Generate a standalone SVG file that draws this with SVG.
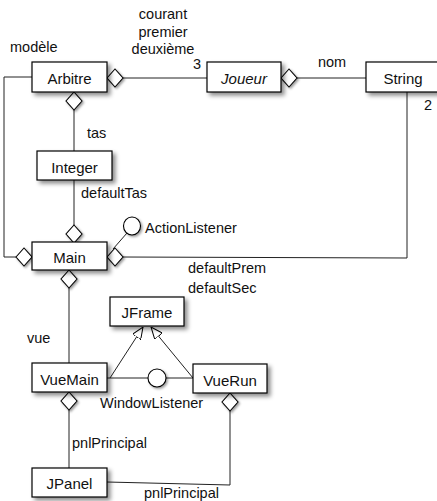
<svg xmlns="http://www.w3.org/2000/svg" width="437" height="501" viewBox="0 0 437 501">
  <style>
    .box { fill: #fff; stroke: #000; stroke-width: 1.2; filter: url(#shadow); }
    .lbl { font-family: "Liberation Sans", Arial, sans-serif; font-size: 14.5px; fill: #111; }
    .name { font-family: "Liberation Sans", Arial, sans-serif; font-size: 15px; fill: #111; text-anchor: middle; }
    .ln { fill: none; stroke: #222; stroke-width: 1; }
    .dia { fill: #fff; stroke: #000; stroke-width: 1.1; filter: url(#shadow2); }
    .itf { fill: #fff; stroke: #000; stroke-width: 1.1; filter: url(#shadow2); }
  </style>
  <defs>
    <filter id="shadow" x="-20%" y="-30%" width="150%" height="180%">
      <feDropShadow dx="3" dy="3" stdDeviation="2" flood-color="#000" flood-opacity="0.45"/>
    </filter>
    <filter id="shadow2" x="-40%" y="-40%" width="200%" height="200%">
      <feDropShadow dx="1.5" dy="1.5" stdDeviation="1.2" flood-color="#000" flood-opacity="0.4"/>
    </filter>
    <marker id="inherit" viewBox="0 0 12 10" refX="12" refY="5" markerWidth="12" markerHeight="10" markerUnits="userSpaceOnUse" orient="auto">
      <path d="M0,0 L12,5 L0,10 z" fill="#fff" stroke="#000" stroke-width="1"/>
    </marker>
    <path id="diamondH" d="M0,0 L8,-9 L16,0 L8,9 z"/>
    <path id="diamondV" d="M0,0 L8,9 L0,18 L-8,9 z"/>
  </defs>

  <g id="connectors">
    <!-- Arbitre - Joueur -->
    <line class="ln" x1="123" y1="78" x2="207" y2="78"/>
    <!-- Joueur - String -->
    <line class="ln" x1="297" y1="78" x2="366" y2="78"/>
    <!-- Arbitre - Integer -->
    <line class="ln" x1="74" y1="110" x2="74" y2="151"/>
    <!-- Arbitre - Main (modèle) -->
    <polyline class="ln" points="32,77 4,77 4,257 16,257"/>
    <!-- Integer - Main -->
    <line class="ln" x1="74" y1="180" x2="74" y2="226"/>
    <!-- String - Main -->
    <polyline class="ln" points="407,92 407,258 123,257"/>
    <!-- Main - ActionListener -->
    <line class="ln" x1="113" y1="249" x2="127" y2="233"/>
    <!-- Main - VueMain -->
    <line class="ln" x1="69" y1="288" x2="69" y2="363"/>
    <!-- generalisation to JFrame -->
    <line class="ln" x1="110" y1="378" x2="143" y2="327" marker-end="url(#inherit)"/>
    <line class="ln" x1="193" y1="378" x2="151" y2="327" marker-end="url(#inherit)"/>
    <!-- VueMain - VueRun via WindowListener -->
    <line class="ln" x1="107" y1="378" x2="193" y2="378"/>
    <!-- VueMain - JPanel -->
    <line class="ln" x1="69" y1="410" x2="69" y2="468"/>
    <!-- VueRun - JPanel -->
    <polyline class="ln" points="230,411 230,485 107,482"/>

    <!-- aggregation diamonds -->
    <use href="#diamondH" class="dia" x="107" y="78"/>
    <use href="#diamondH" class="dia" x="281" y="78"/>
    <use href="#diamondV" class="dia" x="74" y="92"/>
    <use href="#diamondH" class="dia" x="16" y="257"/>
    <use href="#diamondV" class="dia" x="74" y="225"/>
    <use href="#diamondH" class="dia" x="107" y="257"/>
    <use href="#diamondV" class="dia" x="69" y="270"/>
    <use href="#diamondV" class="dia" x="69" y="392"/>
    <use href="#diamondV" class="dia" x="230" y="393"/>

    <!-- interface lollipops -->
    <ellipse class="itf" cx="132" cy="226" rx="8.5" ry="9"/>
    <ellipse class="itf" cx="157" cy="378" rx="9" ry="9"/>

    <!-- role labels -->
    <text class="lbl" x="10" y="52">modèle</text>
    <text class="lbl" x="163" y="19" text-anchor="middle">courant</text>
    <text class="lbl" x="163" y="37" text-anchor="middle">premier</text>
    <text class="lbl" x="163" y="54" text-anchor="middle">deuxième</text>
    <text class="lbl" x="193" y="69">3</text>
    <text class="lbl" x="332" y="67" text-anchor="middle">nom</text>
    <text class="lbl" x="424" y="110">2</text>
    <text class="lbl" x="87" y="138">tas</text>
    <text class="lbl" x="81" y="198">defaultTas</text>
    <text class="lbl" x="145" y="233">ActionListener</text>
    <text class="lbl" x="188" y="273">defaultPrem</text>
    <text class="lbl" x="188" y="293">defaultSec</text>
    <text class="lbl" x="27" y="343">vue</text>
    <text class="lbl" x="100" y="408">WindowListener</text>
    <text class="lbl" x="72" y="448">pnlPrincipal</text>
    <text class="lbl" x="144" y="498">pnlPrincipal</text>
  </g>

  <g id="Arbitre">
    <rect class="box" x="32" y="62" width="75" height="30"/>
    <text class="name" x="69.5" y="84">Arbitre</text>
  </g>
  <g id="Joueur">
    <rect class="box" x="207" y="62" width="74" height="30"/>
    <text class="name" x="244" y="84" font-style="italic">Joueur</text>
  </g>
  <g id="String">
    <rect class="box" x="366" y="62" width="75" height="30"/>
    <text class="name" x="403" y="84">String</text>
  </g>
  <g id="Integer">
    <rect class="box" x="37" y="151" width="75" height="29"/>
    <text class="name" x="74.5" y="172.5">Integer</text>
  </g>
  <g id="Main">
    <rect class="box" x="32" y="242" width="75" height="28"/>
    <text class="name" x="69.5" y="263">Main</text>
  </g>
  <g id="JFrame">
    <rect class="box" x="110" y="297" width="74" height="29"/>
    <text class="name" x="147" y="318">JFrame</text>
  </g>
  <g id="VueMain">
    <rect class="box" x="32" y="363" width="75" height="29"/>
    <text class="name" x="69.5" y="384.5">VueMain</text>
  </g>
  <g id="VueRun">
    <rect class="box" x="193" y="364" width="74" height="29"/>
    <text class="name" x="230" y="385.5">VueRun</text>
  </g>
  <g id="JPanel">
    <rect class="box" x="32" y="468" width="75" height="29"/>
    <text class="name" x="69.5" y="489">JPanel</text>
  </g>
</svg>
